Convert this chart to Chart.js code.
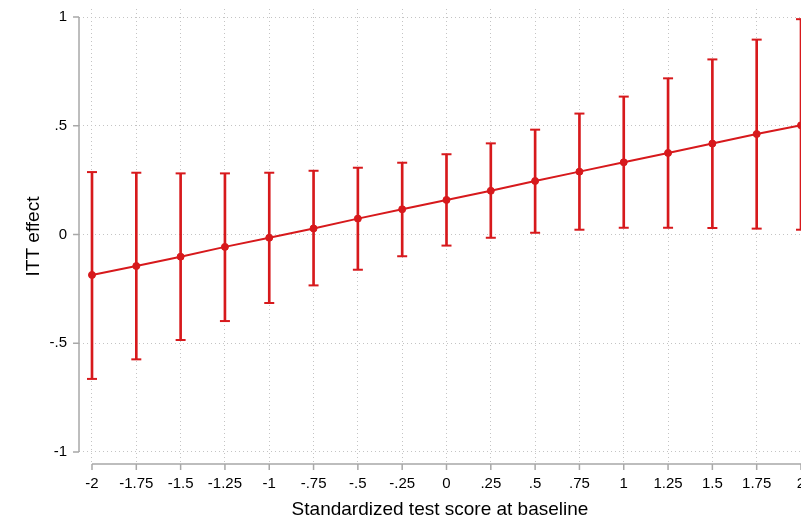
<!DOCTYPE html>
<html>
<head>
<meta charset="utf-8">
<script src="https://cdn.jsdelivr.net/npm/chart.js@4/dist/chart.umd.min.js"></script>
<style>
  html, body { margin: 0; padding: 0; background: #fff; overflow: hidden; }
  #wrap { width: 801px; height: 517px; overflow: hidden; }
</style>
</head>
<body>
<div id="wrap"><canvas id="itt" width="830" height="517"></canvas></div>
<script>
// baseline score grid and estimated ITT effects with 95% CI
const scores = [-2, -1.75, -1.5, -1.25, -1, -0.75, -0.5, -0.25, 0, 0.25, 0.5, 0.75, 1, 1.25, 1.5, 1.75, 2]
const effect = [-0.186, -0.145, -0.102, -0.057, -0.015, 0.028, 0.073, 0.116, 0.159, 0.201, 0.246, 0.289, 0.332, 0.375, 0.418, 0.462, 0.502]
const ciUpper = [0.287, 0.284, 0.281, 0.281, 0.284, 0.293, 0.307, 0.330, 0.369, 0.419, 0.482, 0.556, 0.634, 0.718, 0.805, 0.896, 0.990]
const ciLower = [-0.664, -0.574, -0.485, -0.398, -0.315, -0.234, -0.162, -0.100, -0.051, -0.015, 0.008, 0.022, 0.031, 0.031, 0.030, 0.027, 0.022]

const xTicks = [-2, -1.75, -1.5, -1.25, -1, -0.75, -0.5, -0.25, 0, 0.25, 0.5, 0.75, 1, 1.25, 1.5, 1.75, 2]
const xTickLabels = ['-2', '-1.75', '-1.5', '-1.25', '-1', '-.75', '-.5', '-.25', '0', '.25', '.5', '.75', '1', '1.25', '1.5', '1.75', '2']
const yTicks = [-1, -0.5, 0, 0.5, 1]
const yTickLabels = ['-1', '-.5', '0', '.5', '1']

const RED = '#d7191c'
const AXIS = '#a8a8a8'
const GRID = '#c4c4c4'
const FONT = "'Liberation Sans', Arial, sans-serif"

// Stata-style axis lines: only span the labelled range, ticks point outward
const axisLines = {
  id: 'axisLines',
  beforeDatasetsDraw(chart) {
    const { ctx, scales: { x, y }, chartArea } = chart
    ctx.save()
    ctx.strokeStyle = AXIS
    ctx.lineWidth = 1.5
    ctx.beginPath()
    const yl = chartArea.left
    ctx.moveTo(yl, y.getPixelForValue(yTicks[0]))
    ctx.lineTo(yl, y.getPixelForValue(yTicks[yTicks.length - 1]))
    yTicks.forEach(v => {
      const py = y.getPixelForValue(v)
      ctx.moveTo(yl - 6, py)
      ctx.lineTo(yl, py)
    })
    const xb = chartArea.bottom
    ctx.moveTo(x.getPixelForValue(xTicks[0]), xb)
    ctx.lineTo(x.getPixelForValue(xTicks[xTicks.length - 1]), xb)
    xTicks.forEach(v => {
      const px = x.getPixelForValue(v)
      ctx.moveTo(px, xb)
      ctx.lineTo(px, xb + 6)
    })
    ctx.stroke()
    ctx.restore()
  },
}

new Chart(document.getElementById('itt'), {
  data: {
    datasets: [
      {
        type: 'line',
        label: 'ITT effect',
        data: scores.map((s, i) => ({ x: s, y: effect[i] })),
        borderColor: RED,
        backgroundColor: RED,
        borderWidth: 2,
        pointRadius: 3.5,
        pointBorderWidth: 1,
        tension: 0,
        clip: false,
        order: 0,
      },
      {
        type: 'bar',
        label: 'CI',
        data: scores.map((s, i) => ({ x: s, y: [ciLower[i], ciUpper[i]] })),
        backgroundColor: RED,
        barThickness: 2,
        clip: false,
        order: 2,
      },
      {
        type: 'line',
        label: 'CI upper',
        data: scores.map((s, i) => ({ x: s, y: ciUpper[i] })),
        showLine: false,
        pointStyle: 'line',
        pointRadius: 5,
        borderColor: RED,
        borderWidth: 2,
        clip: false,
        order: 1,
      },
      {
        type: 'line',
        label: 'CI lower',
        data: scores.map((s, i) => ({ x: s, y: ciLower[i] })),
        showLine: false,
        pointStyle: 'line',
        pointRadius: 5,
        borderColor: RED,
        borderWidth: 2,
        clip: false,
        order: 1,
      },
    ],
  },
  options: {
    responsive: false,
    animation: false,
    layout: { padding: { top: 0, right: 29, bottom: 0, left: 0 } },
    plugins: {
      legend: { display: false },
      tooltip: { enabled: false },
    },
    scales: {
      x: {
        type: 'linear',
        offset: false,
        min: -2.0733,
        max: 2,
        afterBuildTicks: s => { s.ticks = xTicks.map(v => ({ value: v })) },
        grid: { color: GRID, lineWidth: 1, offset: false, drawTicks: true, tickLength: 11, tickColor: 'rgba(0,0,0,0)' },
        border: { display: false, dash: [1, 3] },
        ticks: {
          autoSkip: false, maxRotation: 0, padding: 0,
          color: '#000', font: { family: FONT, size: 15 },
          callback: (v, i) => xTickLabels[i],
        },
        title: {
          display: true,
          text: 'Standardized test score at baseline',
          color: '#000',
          font: { family: FONT, size: 19 },
          padding: { top: 5.6, bottom: -4.4 },
        },
      },
      y: {
        min: -1.0552,
        max: 1.0368,
        afterBuildTicks: s => { s.ticks = yTicks.map(v => ({ value: v })) },
        grid: { color: GRID, lineWidth: 1, drawTicks: true, tickLength: 12, tickColor: 'rgba(0,0,0,0)' },
        border: { display: false, dash: [1, 3] },
        ticks: {
          padding: 0,
          color: '#000', font: { family: FONT, size: 15 },
          callback: (v, i) => yTickLabels[i],
        },
        title: {
          display: true,
          text: 'ITT effect',
          color: '#000',
          font: { family: FONT, size: 19 },
          padding: { top: 22.6, bottom: 4.1 },
        },
      },
    },
  },
  plugins: [axisLines],
})
</script>
</body>
</html>
